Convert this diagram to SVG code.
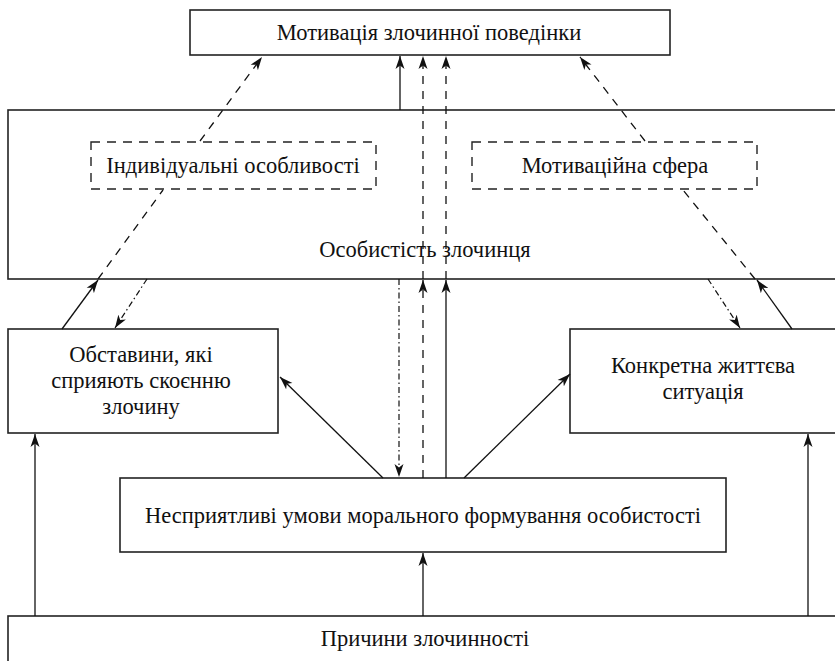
<svg xmlns="http://www.w3.org/2000/svg" width="835" height="661" viewBox="0 0 835 661">
<style>
.box{fill:#fff;stroke:#222;stroke-width:1.6}
.dbox{fill:none;stroke:#222;stroke-width:1.4;stroke-dasharray:9 7}
.t{font-family:"Liberation Serif","Times New Roman",serif;font-size:22.5px;fill:#111;text-anchor:middle}
.c{fill:none;stroke:#111;stroke-width:1.3}
.d{stroke-dasharray:8 7}
.dd{stroke-dasharray:6 3 1.5 3;stroke-width:1.2}
</style>
<defs>
<marker id="a" markerUnits="userSpaceOnUse" markerWidth="14" markerHeight="10" refX="13" refY="5" orient="auto">
<path d="M0,0.5 L13,5 L0,9.5 L3.5,5 z" fill="#111"/>
</marker>
</defs>
<rect width="835" height="661" fill="#fff"/>
<g id="person">
<rect class="box" x="8" y="110" width="836" height="169"/>
<text class="t" x="425" y="257">Особистість злочинця</text>
</g>
<g id="individual">
<rect class="dbox" x="91" y="142" width="285" height="47"/>
<text class="t" x="233" y="173">Індивідуальні особливості</text>
</g>
<g id="motivsphere">
<rect class="dbox" x="472" y="142" width="285" height="47"/>
<text class="t" x="615" y="173">Мотиваційна сфера</text>
</g>
<g id="motivation">
<rect class="box" x="190" y="10" width="480" height="45"/>
<text class="t" x="429" y="40">Мотивація злочинної поведінки</text>
</g>
<g id="circumstances">
<rect class="box" x="8" y="329" width="270" height="104"/>
<text class="t" x="141" y="362">Обставини, які</text>
<text class="t" x="141" y="388">сприяють скоєнню</text>
<text class="t" x="141" y="414">злочину</text>
</g>
<g id="situation">
<rect class="box" x="570" y="329" width="268" height="104"/>
<text class="t" x="703" y="373">Конкретна життєва</text>
<text class="t" x="703" y="399">ситуація</text>
</g>
<g id="conditions">
<rect class="box" x="120" y="478" width="606" height="74"/>
<text class="t" x="423" y="523">Несприятливі умови морального формування особистості</text>
</g>
<g id="causes">
<rect class="box" x="8" y="616" width="836" height="60"/>
<text class="t" x="425" y="646">Причини злочинності</text>
</g>
<g id="connectors">
<line class="c" x1="400" y1="110" x2="400" y2="56" marker-end="url(#a)"/>
<line class="c d" x1="423" y1="478" x2="423" y2="280" marker-end="url(#a)"/>
<line class="c d" x1="423" y1="279" x2="423" y2="56" marker-end="url(#a)"/>
<line class="c" x1="446" y1="478" x2="446" y2="280" marker-end="url(#a)"/>
<line class="c d" x1="446" y1="279" x2="446" y2="56" marker-end="url(#a)"/>
<line class="c dd" x1="399" y1="279" x2="399" y2="477" marker-end="url(#a)"/>
<line class="c" x1="62" y1="329" x2="98" y2="280" marker-end="url(#a)"/>
<line class="c d" x1="98" y1="279" x2="163" y2="190"/>
<line class="c d" x1="200" y1="141" x2="262" y2="57" marker-end="url(#a)"/>
<line class="c" x1="792" y1="329" x2="757" y2="280" marker-end="url(#a)"/>
<line class="c d" x1="755" y1="279" x2="683" y2="190"/>
<line class="c d" x1="645" y1="141" x2="580" y2="57" marker-end="url(#a)"/>
<line class="c dd" x1="147" y1="279" x2="115" y2="328" marker-end="url(#a)"/>
<line class="c dd" x1="708" y1="279" x2="740" y2="328" marker-end="url(#a)"/>
<line class="c" x1="383" y1="478" x2="280" y2="377" marker-end="url(#a)"/>
<line class="c" x1="464" y1="478" x2="570" y2="374" marker-end="url(#a)"/>
<line class="c" x1="35" y1="616" x2="35" y2="434" marker-end="url(#a)"/>
<line class="c" x1="423" y1="616" x2="423" y2="553" marker-end="url(#a)"/>
<line class="c" x1="808" y1="616" x2="808" y2="434" marker-end="url(#a)"/>
</g>
</svg>
